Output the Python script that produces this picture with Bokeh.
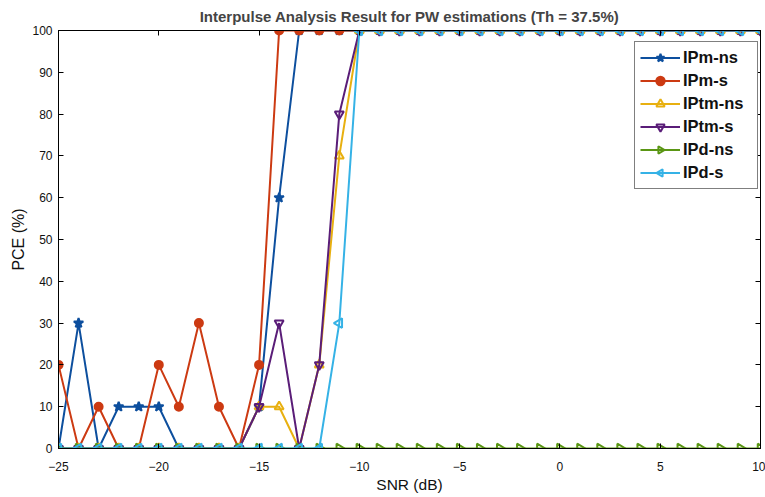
from bokeh.plotting import figure
from bokeh.models import LinearAxis, Legend, LegendItem, FixedTicker, Range1d, ColumnDataSource
from bokeh.embed import file_html
from bokeh.resources import INLINE

snr = list(range(-25, 11))

ipm_ns = [0, 30, 0, 10, 10, 10, 0, 0, 0, 0, 10, 60] + [100] * 24
ipm_s = [20, 0, 10, 0, 0, 20, 10, 30, 10, 0, 20] + [100] * 25
iptm_ns = [0] * 10 + [10, 10, 0, 20, 70] + [100] * 21
iptm_s = [0] * 10 + [10, 30, 0, 20, 80] + [100] * 21
ipd_ns = [0] * 36
ipd_s = [0] * 14 + [30] + [100] * 21

names = ["IPm-ns", "IPm-s", "IPtm-ns", "IPtm-s", "IPd-ns", "IPd-s"]
series = [ipm_ns, ipm_s, iptm_ns, iptm_s, ipd_ns, ipd_s]
colors = ["#0d4f9e", "#cc3a12", "#e8b010", "#5a1d78", "#5a9614", "#35b2e6"]
markers = ["star", "circle", "triangle", "inverted_triangle", "ngon", "ngon"]
angles = [0.0, 0.0, 0.0, 0.0, -1.5708, 1.5708]
sizes = [10, 8, 9, 9, 9, 9]
fills = [True, True, False, False, False, False]

FONT = "Liberation Sans"

p = figure(width=765, height=497, output_backend="svg", toolbar_location=None,
           x_range=Range1d(-25, 10), y_range=Range1d(0, 100),
           min_border_left=58, min_border_right=5, min_border_top=29, min_border_bottom=49)
p.background_fill_color = "white"
p.border_fill_color = "white"
p.outline_line_color = "black"
p.outline_line_width = 1
p.xgrid.visible = False
p.ygrid.visible = False

p.title.text = "Interpulse Analysis Result for PW estimations (Th = 37.5%)"
p.title.align = "center"
p.title.text_font = FONT
p.title.text_font_size = "15px"
p.title.text_font_style = "bold"
p.title.offset = 0
p.title.standoff = 11

for ax in p.xaxis:
    ax.ticker = FixedTicker(ticks=[-25, -20, -15, -10, -5, 0, 5, 10])
    ax.axis_label = "SNR (dB)"
    ax.major_label_standoff = 13
    ax.axis_label_standoff = 2
    ax.axis_label_text_font_size = "15.5px"
for ax in p.yaxis:
    ax.ticker = FixedTicker(ticks=list(range(0, 101, 10)))
    ax.axis_label = "PCE (%)"
    ax.major_label_standoff = 6
    ax.axis_label_standoff = 2
    ax.axis_label_text_font_size = "16px"

for ax in list(p.xaxis) + list(p.yaxis):
    ax.major_tick_in = 5
    ax.major_tick_out = 0
    ax.minor_tick_line_color = None
    ax.axis_line_color = "black"
    ax.major_label_text_font = FONT
    ax.major_label_text_font_size = "12px"
    ax.major_label_text_color = "#111111"
    ax.axis_label_text_font = FONT
    ax.axis_label_text_font_style = "normal"
    ax.axis_label_text_color = "#111111"

top_ax = LinearAxis(ticker=FixedTicker(ticks=[-25, -20, -15, -10, -5, 0, 5, 10]),
                    major_tick_in=5, major_tick_out=0, minor_tick_line_color=None,
                    major_label_text_font_size="1px", major_label_text_color=None,
                    major_label_standoff=0, axis_line_color="black")
right_ax = LinearAxis(ticker=FixedTicker(ticks=list(range(0, 101, 10))),
                      major_tick_in=5, major_tick_out=0, minor_tick_line_color=None,
                      major_label_text_font_size="1px", major_label_text_color=None,
                      major_label_standoff=0, axis_line_color="black")
p.add_layout(top_ax, "above")
p.add_layout(right_ax, "right")

items = []
for name, ys, c, m, a, s, f in zip(names, series, colors, markers, angles, sizes, fills):
    src = ColumnDataSource(dict(x=snr, y=ys, ang=[a] * len(snr)))
    ln = p.line("x", "y", source=src, line_color=c, line_width=2)
    if m == "ngon":
        sc = p.ngon("x", "y", source=src, radius=5.5, radius_units="screen", n=3, angle="ang",
                    line_color=c, line_width=2, fill_color="white", fill_alpha=0.0)
    else:
        sc = p.scatter("x", "y", source=src, marker=m, size=s,
                       line_color=c, line_width=2,
                       fill_color=c if f else "white", fill_alpha=1.0 if f else 0.0)
    items.append(LegendItem(label=name, renderers=[ln, sc]))

legend = Legend(items=items, location=(576, 259))
legend.label_text_font = FONT
legend.label_text_font_size = "16.5px"
legend.label_text_font_style = "bold"
legend.label_text_color = "#111111"
legend.label_height = 21
legend.label_width = 69
legend.glyph_width = 40
legend.glyph_height = 21
legend.spacing = 2
legend.padding = 5
legend.margin = 0
legend.label_standoff = 3
legend.border_line_color = "black"
legend.border_line_width = 1
legend.background_fill_color = "white"
legend.background_fill_alpha = 1.0
p.add_layout(legend, "center")

open("out.html", "w").write(file_html(p, INLINE))
